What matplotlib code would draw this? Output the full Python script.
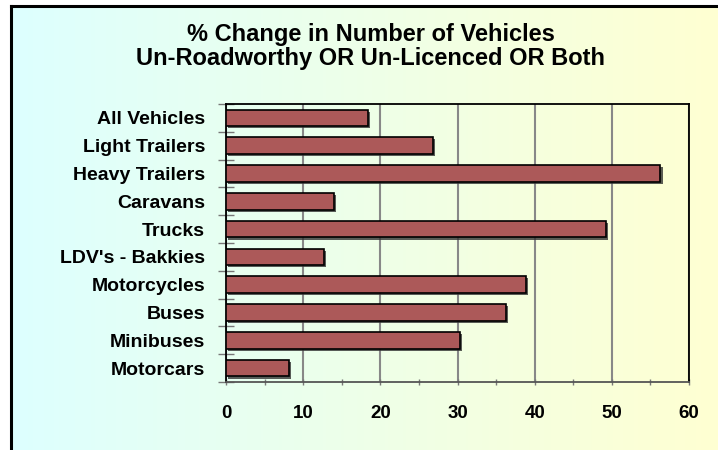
"""Horizontal bar chart: % change in number of vehicles un-roadworthy / un-licenced"""

import numpy as np
import matplotlib
matplotlib.use("Agg")
import matplotlib.pyplot as plt
from matplotlib import patheffects
from matplotlib.lines import Line2D

categories = ["Motorcars", "Minibuses", "Buses", "Motorcycles", "LDV's - Bakkies",
              "Trucks", "Caravans", "Heavy Trailers", "Light Trailers", "All Vehicles"]
pct_change = [8.1, 30.3, 36.3, 38.9, 12.7, 49.2, 14.0, 56.3, 26.8, 18.4]
x_ticks = [0, 10, 20, 30, 40, 50, 60]
title_lines = ["% Change in Number of Vehicles", "Un-Roadworthy OR Un-Licenced OR Both"]

W, H = 718, 450
plt.rcParams["font.family"] = ["Liberation Sans", "DejaVu Sans"]
plt.rcParams["font.weight"] = "bold"

fig = plt.figure(figsize=(W / 100, H / 100), dpi=100)
fig.patch.set_facecolor("white")

# gradient background, cyan on the left to pale yellow on the right
bg = fig.add_axes([11 / W, 0, 1 - 11 / W, 1 - 6 / H], zorder=0)
left_col = np.array([221, 255, 255]) / 255
right_col = np.array([255, 255, 210]) / 255
t = np.linspace(0, 1, 256)[None, :, None]
grad = left_col * (1 - t) + right_col * t
bg.imshow(grad, aspect="auto", extent=[0, 1, 0, 1])
bg.set_axis_off()

# chart border (left and top edges are visible)
fig.add_artist(Line2D([11 / W, 11 / W], [0, 1 - 6 / H], color="black", lw=2.2,
                      transform=fig.transFigure))
fig.add_artist(Line2D([11 / W, 1], [1 - 6 / H, 1 - 6 / H], color="black", lw=2.2,
                      transform=fig.transFigure))

ax = fig.add_axes([226 / W, 1 - 382 / H, (689 - 226) / W, (382 - 104) / H], zorder=2)
ax.set_facecolor("none")

y = np.arange(len(categories))
bars = ax.barh(y, pct_change, height=0.6, color="#ac5959", edgecolor="black",
               linewidth=1.2, zorder=3)
for b in bars:
    b.set_path_effects([patheffects.SimplePatchShadow(offset=(1.5, -1.5),
                                                      shadow_rgbFace="#333333", alpha=0.8),
                        patheffects.Normal()])

ax.set_xlim(x_ticks[0], x_ticks[-1])
ax.set_ylim(-0.5, len(categories) - 0.5)

ax.set_xticks(x_ticks)
ax.set_xticks(np.arange(5, 60, 10), minor=True)
ax.tick_params(axis="x", which="both", direction="inout", length=5, width=1,
               color="#777777", pad=14, labelsize=13.5)
ax.xaxis.grid(True, color="#888888", lw=1.5, zorder=1)
ax.set_axisbelow(True)

# category boundaries get the tick marks, centres get the labels
ax.set_yticks(np.arange(-0.5, len(categories), 1))
ax.set_yticklabels([])
ax.set_yticks(y, minor=True)
ax.set_yticklabels(categories, minor=True, fontsize=14, fontweight="bold")
ax.tick_params(axis="y", which="major", direction="inout", length=12, width=1,
               color="#777777")
ax.tick_params(axis="y", which="minor", length=0, pad=15)

for side in ["top", "right", "left"]:
    ax.spines[side].set_color("black")
    ax.spines[side].set_linewidth(1.3)
ax.spines["bottom"].set_color("#555555")
ax.spines["bottom"].set_linewidth(1.3)

fig.text(371 / W, 1 - 34 / H, title_lines[0], ha="center", va="center",
         fontsize=17, fontweight="bold")
fig.text(371 / W, 1 - 58 / H, title_lines[1], ha="center", va="center",
         fontsize=17, fontweight="bold")

fig.savefig("out.png", dpi=100)
